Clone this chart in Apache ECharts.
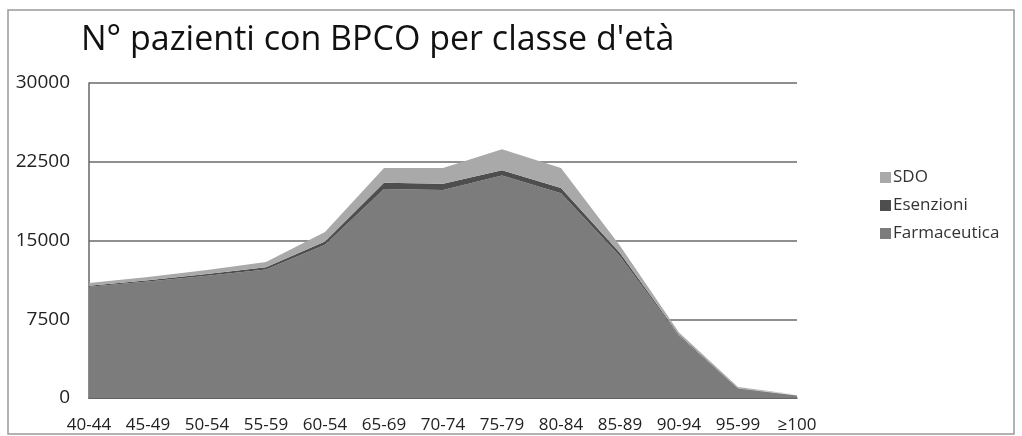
<!DOCTYPE html>
<html>
<head>
<meta charset="utf-8">
<script src="https://cdn.jsdelivr.net/npm/echarts@6/dist/echarts.min.js"></script>
<style>
  html, body { margin: 0; padding: 0; background: #fff; }
  #chart { width: 1022px; height: 436px; }
</style>
</head>
<body>
<div id="chart"></div>
<script>
// classi d'età (etichetta "60-54" come nell'originale)
const ageClasses = ['40-44', '45-49', '50-54', '55-59', '60-54', '65-69', '70-74',
  '75-79', '80-84', '85-89', '90-94', '95-99', '≥100'];

// valori (area impilata)
const farmaceutica = [10600, 11100, 11650, 12250, 14600, 19900, 19800, 21200, 19500, 13500, 5900, 900, 250];
const esenzioni    = [100, 120, 150, 200, 300, 600, 600, 500, 500, 300, 100, 40, 10];
const sdo          = [250, 300, 400, 500, 900, 1400, 1500, 2000, 1900, 700, 250, 100, 40];

const yTicks = [0, 7500, 15000, 22500, 30000];

const chart = echarts.init(document.getElementById('chart'));

const font = '"Open Sans", sans-serif';

function areaSeries(name, data, color) {
  return {
    name: name,
    type: 'line',
    stack: 'tot',
    data: data,
    symbol: 'none',
    lineStyle: { width: 0 },
    areaStyle: { color: color, opacity: 1 },
    itemStyle: { color: color }
  };
}

const option = {
  animation: false,
  backgroundColor: '#fff',
  title: {
    text: "N° pazienti con BPCO per classe d'età",
    left: 76,
    top: 18,
    textStyle: { fontFamily: font, fontSize: 34, fontWeight: 'normal', color: '#111' }
  },
  legend: {
    orient: 'vertical',
    left: 875,
    top: 164,
    itemWidth: 11,
    itemHeight: 11,
    itemGap: 11,
    icon: 'rect',
    data: ['SDO', 'Esenzioni', 'Farmaceutica'],
    textStyle: { fontFamily: font, fontSize: 17, color: '#333', padding: [0, 0, 0, -3] }
  },
  grid: { left: 89, right: 225, top: 83, bottom: 38 },
  xAxis: {
    type: 'category',
    data: ageClasses,
    boundaryGap: false,
    axisLine: { lineStyle: { color: '#555', width: 1.5 } },
    axisTick: { show: false },
    axisLabel: { interval: 0, margin: 19, fontFamily: font, fontSize: 17, color: '#222' }
  },
  yAxis: {
    type: 'value',
    min: yTicks[0],
    max: yTicks[yTicks.length - 1],
    interval: 7500,
    axisLine: { show: true, lineStyle: { color: '#666', width: 1.5 } },
    axisTick: { show: false },
    axisLabel: {
      margin: 19, fontFamily: font, fontSize: 19, color: '#222',
      formatter: function (v) { return String(v); }
    },
    splitLine: { lineStyle: { color: '#6a6a6a', width: 1.5 } }
  },
  graphic: [{
    type: 'rect',
    shape: { x: 8, y: 10, width: 1006, height: 424 },
    style: { fill: 'none', stroke: '#999', lineWidth: 1.5 },
    silent: true
  }],
  series: [
    areaSeries('Farmaceutica', farmaceutica, '#7c7c7c'),
    areaSeries('Esenzioni', esenzioni, '#4e4e4e'),
    areaSeries('SDO', sdo, '#a9a9a9')
  ]
};

chart.setOption(option);
window.addEventListener('resize', function () { chart.resize(); });
</script>
</body>
</html>
